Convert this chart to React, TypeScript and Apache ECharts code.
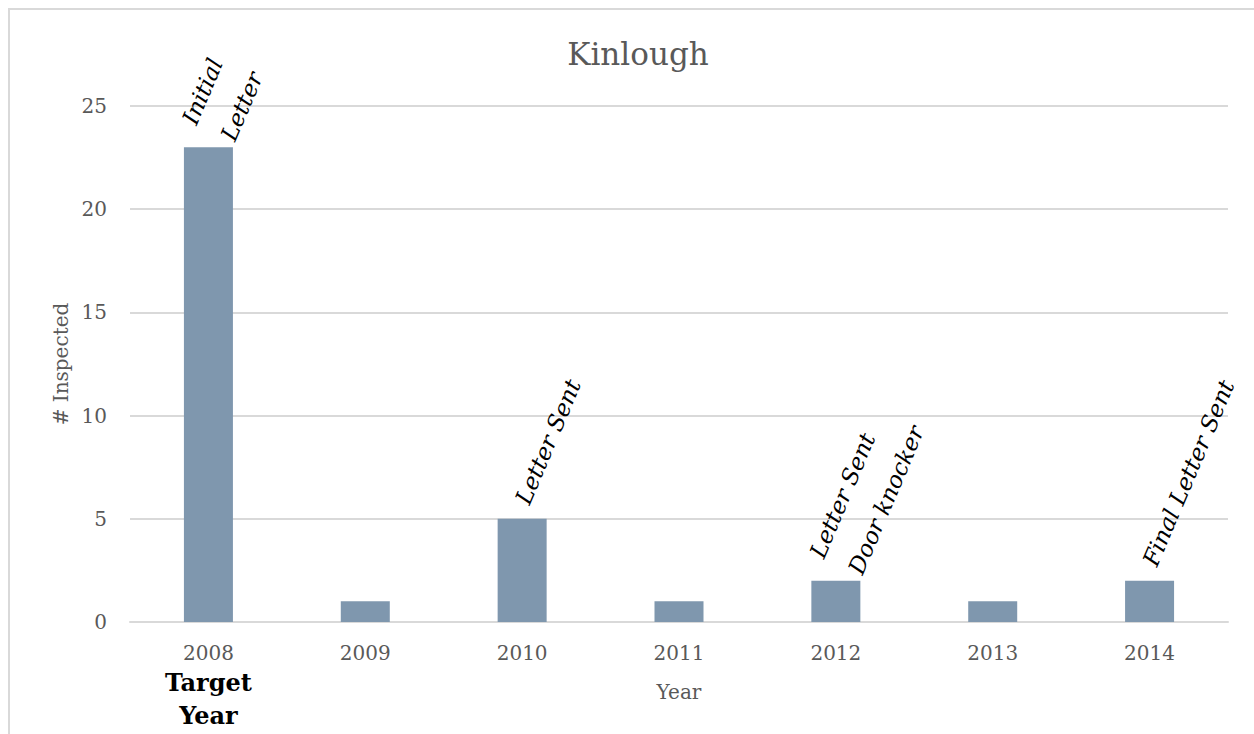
import React, { useEffect, useRef } from "react";
import * as echarts from "echarts";

const years = ["2008", "2009", "2010", "2011", "2012", "2013", "2014"];
const inspected = [23, 1, 5, 1, 2, 1, 2];
const notes = ["Initial\nLetter", "", "Letter Sent", "", "Letter Sent\nDoor knocker", "", "Final Letter Sent"];
const yTicks = { min: 0, max: 25, interval: 5 };
const title = "Kinlough";
const targetYear = "2008";

const FONT = "DejaVu Serif";

export default function App() {
  const ref = useRef<HTMLDivElement>(null);
  useEffect(() => {
    if (!ref.current) return;
    const chart = echarts.init(ref.current, null, { renderer: "svg" });
    chart.setOption({
      animation: false,
      backgroundColor: "#ffffff",
      title: {
        text: title,
        left: 633,
        textAlign: "center",
        top: 33,
        textStyle: { fontFamily: FONT, fontSize: 31, fontWeight: "normal", color: "#595959" },
      },
      graphic: [
        {
          type: "rect",
          shape: { x: 9, y: 9, width: 1300, height: 800 },
          style: { fill: "none", stroke: "#d9d9d9", lineWidth: 2 },
          silent: true,
        },
      ],
      grid: { left: 130, width: 1098, top: 106, height: 516, containLabel: false },
      xAxis: {
        type: "category",
        data: years,
        name: "Year",
        nameLocation: "middle",
        nameGap: 60,
        nameMoveOverlap: false,
        nameTextStyle: { fontFamily: FONT, fontSize: 20, color: "#595959" },
        axisTick: { show: false },
        axisLine: { lineStyle: { color: "#d9d9d9", width: 2 } },
        axisLabel: {
          margin: 18,
          fontFamily: FONT,
          fontSize: 20,
          lineHeight: 26,
          color: "#595959",
          formatter: (v: string) => (v === targetYear ? `{a|${v}}\n{b|Target}\n{b|Year}` : `{a|${v}}`),
          rich: {
            a: { fontFamily: FONT, fontSize: 20, color: "#595959", lineHeight: 26 },
            b: { fontFamily: FONT, fontSize: 24, fontWeight: "bold", color: "#000000", lineHeight: 33 },
          },
        },
      },
      yAxis: {
        type: "value",
        min: yTicks.min,
        max: yTicks.max,
        interval: yTicks.interval,
        name: "# Inspected",
        nameLocation: "middle",
        nameGap: 58,
        nameTextStyle: { fontFamily: FONT, fontSize: 20, color: "#595959" },
        axisLabel: { margin: 23, fontFamily: FONT, fontSize: 20, color: "#595959" },
        splitLine: { lineStyle: { color: "#d9d9d9", width: 2 } },
        axisLine: { show: false },
        axisTick: { show: false },
      },
      series: [
        {
          type: "bar",
          data: inspected,
          barWidth: 49,
          itemStyle: { color: "#7f97ae" },
          label: {
            show: true,
            position: "top",
            distance: 16,
            rotate: 67,
            align: "left",
            verticalAlign: "middle",
            fontFamily: FONT,
            fontStyle: "italic",
            fontSize: 23,
            lineHeight: 42,
            color: "#000000",
            formatter: (p: any) => notes[p.dataIndex] || "",
          },
        },
      ],
    });
    return () => chart.dispose();
  }, []);
  return (
    <div
      ref={ref}
      style={{ position: "fixed", left: 0, top: 0, width: 1254, height: 734 }}
    />
  );
}
